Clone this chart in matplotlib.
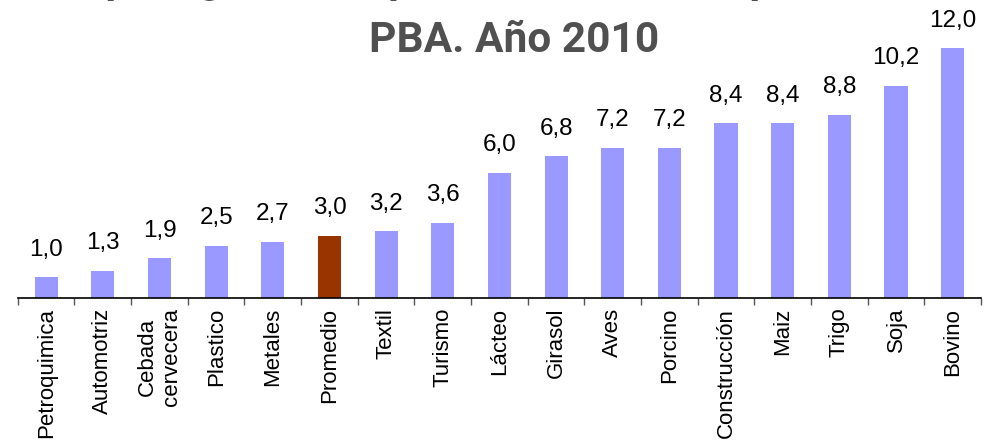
import matplotlib
matplotlib.use("Agg")
import matplotlib.pyplot as plt
import numpy as np

categories = ["Petroquimica", "Automotriz", "Cebada\ncervecera", "Plastico", "Metales",
              "Promedio", "Textil", "Turismo", "Lácteo", "Girasol", "Aves", "Porcino",
              "Construcción", "Maiz", "Trigo", "Soja", "Bovino"]
values = [1.0, 1.3, 1.9, 2.5, 2.7, 3.0, 3.2, 3.6, 6.0, 6.8, 7.2, 7.2, 8.4, 8.4, 8.8, 10.2, 12.0]
highlight = "Promedio"
title_top = "Empleo generado por cada millón de pesos, en la"
title_bottom = "PBA. Año 2010"

plt.rcParams["font.family"] = ["Liberation Sans", "DejaVu Sans"]

fig = plt.figure(figsize=(9.91, 4.46), dpi=100)
ax = fig.add_axes([0.018, 0.3318, 0.972, 0.63])

x = np.arange(len(categories))
colors = ["#993300" if c == highlight else "#9999FF" for c in categories]
ax.bar(x, values, width=0.41, color=colors)
for xi, v in zip(x, values):
    ax.annotate(f"{v:.1f}".replace(".", ","), (xi, v), xytext=(0, 12), textcoords="offset points",
                ha="center", va="bottom", fontsize=17.5)

ax.set_xlim(-0.5, len(categories) - 0.5)
ax.set_ylim(0, 13.5)
ax.set_yticks([])
for s in ["top", "right", "left"]:
    ax.spines[s].set_visible(False)
ax.spines["bottom"].set_linewidth(1.2)

ax.set_xticks(x)
ax.set_xticklabels(categories, rotation=90, fontsize=16, va="top", ha="center",
                   multialignment="center")
ax.tick_params(axis="x", which="major", length=0, pad=7)
ax.set_xticks(np.arange(-0.5, len(categories)), minor=True)
ax.tick_params(axis="x", which="minor", length=5, width=1, color="#555555")

# first title line is cut by the top edge in the source image
fig.text(0.515, 1.0 + 8.5 / 446, title_top, ha="center", va="baseline",
         fontsize=30.5, fontweight="bold", color="#505050", family="Roboto")
fig.text(0.519, 1 - 52 / 446, title_bottom, ha="center", va="baseline",
         fontsize=30.5, fontweight="bold", color="#505050", family="Roboto")

fig.savefig("out.png", dpi=100)
